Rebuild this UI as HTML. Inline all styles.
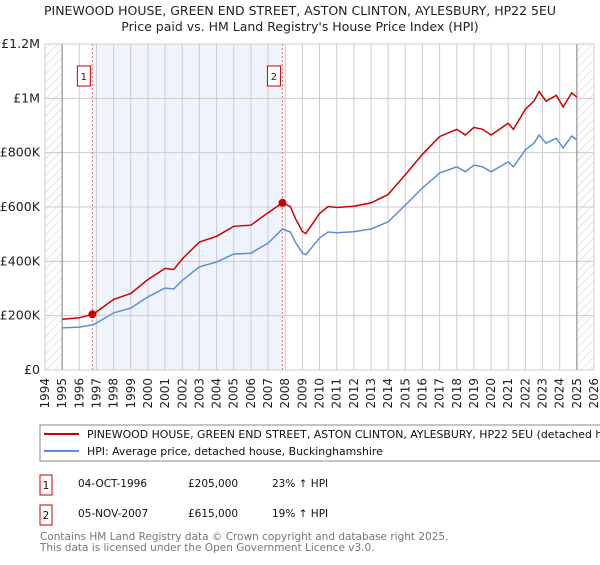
<!DOCTYPE html>
<html><head><meta charset="utf-8"><style>
body{margin:0;background:#fff;font-family:"Liberation Sans","DejaVu Sans",sans-serif;overflow:hidden;}
svg text{font-family:"DejaVu Sans","Liberation Sans",sans-serif;}
</style></head><body>
<svg id="c" width="600" height="560" xmlns="http://www.w3.org/2000/svg">
<defs><pattern id="h" width="6" height="6" patternUnits="userSpaceOnUse" patternTransform="rotate(45)"><line x1="0" y1="0" x2="0" y2="6" stroke="#ccc" stroke-width="1"/></pattern></defs>
<text x="300" y="15" text-anchor="middle" font-size="12.5" fill="#222">PINEWOOD HOUSE, GREEN END STREET, ASTON CLINTON, AYLESBURY, HP22 5EU</text>
<text x="300" y="31" text-anchor="middle" font-size="12.5" fill="#222">Price paid vs. HM Land Registry's House Price Index (HPI)</text>
<g id="grid"></g><g id="series"></g><g id="axes"></g>
<rect x="40" y="425" width="580" height="36" fill="#fff" stroke="#888"/>
<line x1="44" y1="434" x2="79" y2="434" stroke="#cc0000" stroke-width="2"/>
<text x="87" y="438" font-size="10.9" fill="#111">PINEWOOD HOUSE, GREEN END STREET, ASTON CLINTON, AYLESBURY, HP22 5EU (detached house)</text>
<line x1="44" y1="451" x2="79" y2="451" stroke="#5b8ed6" stroke-width="2"/>
<text x="87" y="455" font-size="10.9" fill="#111">HPI: Average price, detached house, Buckinghamshire</text>
<g font-size="10.5" fill="#111">
<rect x="40" y="475" width="12" height="20" fill="#fff" stroke="#cc0000"/><text x="46" y="489" text-anchor="middle">1</text>
<text x="78" y="487">04-OCT-1996</text><text x="188" y="487">£205,000</text><text x="272" y="487">23% ↑ HPI</text></g>
<g font-size="10.5" fill="#111">
<rect x="40" y="505" width="12" height="20" fill="#fff" stroke="#cc0000"/><text x="46" y="519" text-anchor="middle">2</text>
<text x="78" y="517">05-NOV-2007</text><text x="188" y="517">£615,000</text><text x="272" y="517">19% ↑ HPI</text></g>
<text x="40" y="540" font-size="10.5" fill="#777">Contains HM Land Registry data © Crown copyright and database right 2025.</text>
<text x="40" y="551" font-size="10.5" fill="#777">This data is licensed under the Open Government Licence v3.0.</text>
</svg>
<script>
const hpiYears=[1995,1996,1996.76,1997,1998,1999,2000,2001,2001.5,2002,2003,2004,2005,2006,2007,2007.84,2008.3,2008.6,2009,2009.2,2010,2010.5,2011,2012,2013,2014,2015,2016,2017,2018,2018.5,2019,2019.5,2020,2021,2021.3,2022,2022.5,2022.8,2023.2,2023.8,2024.2,2024.7,2025];
const hpiValues=[155,158,166,173,210,228,269,302,298,330,380,397,427,430,467,519,508,470,431,424,486,508,505,509,519,545,607,670,725,748,730,754,748,730,766,748,810,835,865,835,853,817,861,847];
const propValues=[187,192,205,214,260,282,333,374,370,409,471,492,529,533,579,615,602,557,511,502,576,602,598,603,615,646,719,794,859,886,865,893,886,865,908,886,960,990,1025,990,1011,968,1020,1004];
const saleYears=[1996.76,2007.84];
const saleValues=[205,615];
const saleLabels=["1","2"];
const yTicks=[0,200,400,600,800,1000,1200];
const yTickLabels=["£0","£200K","£400K","£600K","£800K","£1M","£1.2M"];
const xYears=[1994,1995,1996,1997,1998,1999,2000,2001,2002,2003,2004,2005,2006,2007,2008,2009,2010,2011,2012,2013,2014,2015,2016,2017,2018,2019,2020,2021,2022,2023,2024,2025,2026];
const L=45,R=594,T=44,B=370,NS="http://www.w3.org/2000/svg";
const xs=y=>L+(y-1994)/(2026-1994)*(R-L);
const ys=v=>B-v/1200*(B-T);
function mk(p,t,a){const e=document.createElementNS(NS,t);for(const k in a)e.setAttribute(k,a[k]);p.appendChild(e);return e;}
const g=document.getElementById('grid'),s=document.getElementById('series'),ax=document.getElementById('axes');
let e=mk(g,'rect',{x:L,y:T,width:R-L,height:B-T,fill:'#fff'});


e=mk(g,'rect',{x:xs(saleYears[0]),y:T,width:xs(saleYears[1])-xs(saleYears[0]),height:B-T,fill:'#eef3fc'});


e=mk(g,'rect',{x:L,y:T,width:xs(1995)-L,height:B-T,fill:'url(#h)'});


e=mk(g,'rect',{x:xs(2025),y:T,width:R-xs(2025),height:B-T,fill:'url(#h)'});


xYears.forEach(y=>{const l=mk(g,'line',{x1:xs(y),x2:xs(y),y1:T,y2:B,stroke:'#ccc','stroke-width':1});


const t=mk(ax,'text',{x:xs(y)+4,y:B+8,'font-size':12,fill:'#222',transform:`rotate(-90 ${xs(y)+4} ${B+8})`,'text-anchor':'end'});t.textContent=y;

});
yTicks.forEach((v,i)=>{const l=mk(g,'line',{x1:L,x2:R,y1:ys(v),y2:ys(v),stroke:'#ccc','stroke-width':1});


const t=mk(ax,'text',{x:40,y:ys(v)+4,'font-size':12.6,fill:'#222','text-anchor':'end'});t.textContent=yTickLabels[i];

});
[1995,2025].forEach(y=>{const l=mk(g,'line',{x1:xs(y),x2:xs(y),y1:T,y2:B,stroke:'#888','stroke-width':1});

});
saleYears.forEach((y,i)=>{const l=mk(s,'line',{x1:xs(y),x2:xs(y),y1:T,y2:B,stroke:'#f07070','stroke-dasharray':'2,2','stroke-width':1});


const bx=mk(s,'rect',{x:xs(y)-15,y:66,width:13,height:20,fill:'#fff',stroke:'#cc0000'});


const t=mk(s,'text',{x:xs(y)-8.5,y:80,'font-size':10,'text-anchor':'middle',fill:'#222'});t.textContent=saleLabels[i];

});
const path=v=>hpiYears.map((y,i)=>(i?'L':'M')+xs(y).toFixed(1)+','+ys(v[i]).toFixed(1)).join('');
e=mk(s,'path',{d:path(hpiValues),fill:'none',stroke:'#5b8ed6','stroke-width':1.5});


e=mk(s,'path',{d:path(propValues),fill:'none',stroke:'#cc0000','stroke-width':1.5});


saleYears.forEach((y,i)=>{const c=mk(s,'circle',{cx:xs(y),cy:ys(saleValues[i]),r:4,fill:'#cc0000'});

});
</script>
</body></html>
